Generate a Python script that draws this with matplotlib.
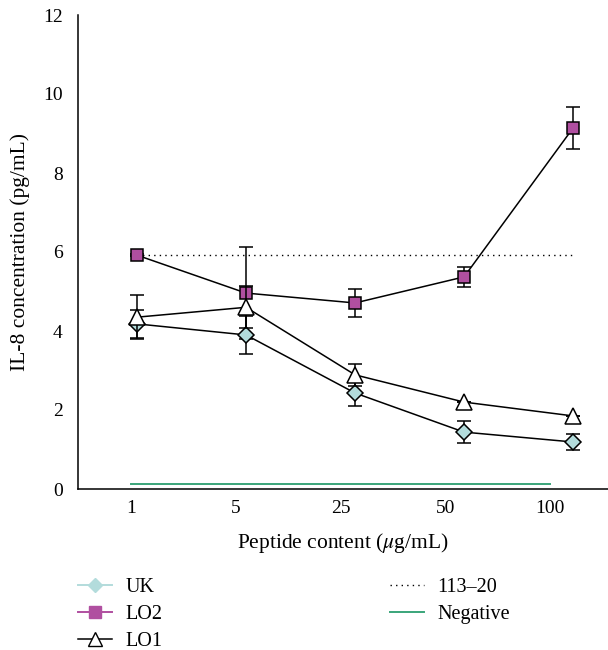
import matplotlib
matplotlib.use("Agg")
import matplotlib.pyplot as plt
from matplotlib.lines import Line2D
import numpy as np

plt.rcParams['font.family'] = ['Liberation Serif', 'DejaVu Serif']
plt.rcParams['mathtext.fontset'] = 'stix'

# ---- data ----
categories = ["1", "5", "25", "50", "100"]
uk = [4.18, 3.90, 2.43, 1.44, 1.19]
uk_err = [0.35, 0.48, 0.33, 0.27, 0.21]
lo2 = [5.92, 4.96, 4.71, 5.37, 9.14]
lo2_err = [0.03, 1.17, 0.36, 0.26, 0.52]
lo1 = [4.35, 4.60, 2.89, 2.20, 1.85]
lo1_err = [0.55, 0.53, 0.28, 0.0, 0.0]
ref_113_20 = 5.92
negative = 0.13

c_uk = "#b3dcdc"
c_lo2 = "#b04fa0"
c_neg = "#3aa57a"

fig = plt.figure(figsize=(6.08, 6.5), dpi=100)
ax = fig.add_axes([78/608, 1 - 489/650, 1 - 78/608, (489 - 15)/650])
x = np.arange(len(categories))

# reference lines
ax.plot([x[0], x[-1]], [ref_113_20, ref_113_20], color="black", lw=1.0,
        linestyle=(0, (1, 3)), zorder=1)

ax.errorbar(x, lo2, yerr=lo2_err, color="black", lw=1.1, elinewidth=1.1,
            capsize=5, capthick=1.1, marker="s", ms=8.5, mfc=c_lo2,
            mec="black", mew=1.1, zorder=2)
ax.errorbar(x, uk, yerr=uk_err, color="black", lw=1.1, elinewidth=1.1,
            capsize=5, capthick=1.1, marker="D", ms=8.5, mfc=c_uk,
            mec="black", mew=1.1, zorder=3)
ax.errorbar(x, lo1, yerr=lo1_err, color="black", lw=1.1, elinewidth=1.1,
            capsize=5, capthick=1.1, marker="^", ms=12, mfc="white",
            mec="black", mew=1.1, zorder=4)

ax.set_xlim(-0.541, 4.32)
ax.set_ylim(0, 12)
ax.set_yticks([0, 2, 4, 6, 8, 10, 12])
ax.set_xticks([])
for s in ["top", "right"]:
    ax.spines[s].set_visible(False)
ax.spines["left"].set_linewidth(1.1)
ax.spines["bottom"].set_linewidth(1.1)
ax.tick_params(axis="y", length=0, pad=11, labelsize=14)
ax.set_ylabel("IL-8 concentration (pg/mL)", fontsize=15.5, labelpad=9)

# category label axis
ax2 = ax.twiny()
ax2.set_xlim(-0.506, 4.554)
ax2.xaxis.set_ticks_position("bottom")
ax2.xaxis.set_label_position("bottom")
ax2.set_xticks(x)
ax2.set_xticklabels(categories)
ax2.tick_params(axis="x", length=0, pad=8, labelsize=14)
for s in ax2.spines.values():
    s.set_visible(False)
ax2.plot([x[0], x[-1]], [negative, negative], color=c_neg, lw=1.4, zorder=1)
ax2.set_xlabel(r"Peptide content ($\mathit{\mu}$g/mL)", fontsize=15.5, labelpad=10)

handles = [
    Line2D([], [], color=c_uk, marker="D", ms=7, mfc=c_uk, mec=c_uk, lw=1.4),
    Line2D([], [], color=c_lo2, marker="s", ms=8, mfc=c_lo2, mec=c_lo2, lw=1.4),
    Line2D([], [], color="black", marker="^", ms=10, mfc="white", mec="black", lw=1.1),
    Line2D([], [], color="black", lw=1.0, linestyle=(0, (1, 3))),
    Line2D([], [], color=c_neg, lw=1.4),
]
labels = ["UK", "LO2", "LO1", "113\u201320", "Negative"]
fig.legend(handles, labels, ncol=2, frameon=False, loc="upper left",
           bbox_to_anchor=(78/608, 1 - 578/650), borderaxespad=0, borderpad=0,
           fontsize=14.5, handlelength=1.7, handletextpad=0.65,
           labelspacing=0.4, columnspacing=11.3)

fig.savefig("out.png", dpi=100)
